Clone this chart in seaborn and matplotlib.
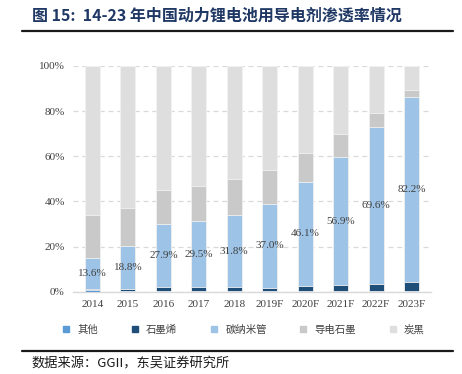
import numpy as np
import pandas as pd
import matplotlib
matplotlib.use('Agg')
import matplotlib.pyplot as plt
from matplotlib.lines import Line2D
import seaborn as sns

sns.set_style('white')
plt.rcParams['font.family'] = ['Noto Sans CJK SC', 'DejaVu Sans']

years = ['2014', '2015', '2016', '2017', '2018', '2019F', '2020F', '2021F', '2022F', '2023F']
other = [0.8, 0.4, 0.3, 0.3, 0.3, 0.3, 0.3, 0.3, 0.3, 0.3]
graphene = [0.4, 1.0, 1.7, 1.6, 1.7, 1.5, 2.3, 2.5, 3.1, 3.8]
cnt = [13.6, 18.8, 27.9, 29.5, 31.8, 37.0, 46.1, 56.9, 69.6, 82.2]
graphite = [19.2, 17.0, 15.1, 15.6, 16.2, 15.0, 12.8, 10.3, 6.2, 2.9]
series_names = ['其他', '石墨烯', '碳纳米管', '导电石墨', '炭黑']
colors = ['#5B9BD5', '#1F4E79', '#9DC3E6', '#C9C9C9', '#DEDEDE']

df = pd.DataFrame({'year': years, 'other': other, 'graphene': graphene,
                   'cnt': cnt, 'graphite': graphite})
df['carbon'] = 100 - df[['other', 'graphene', 'cnt', 'graphite']].sum(axis=1)
layers = ['other', 'graphene', 'cnt', 'graphite', 'carbon']
cum = df[layers].cumsum(axis=1) / 100

fig = plt.figure(figsize=(4.62, 3.74), dpi=100)
ax = fig.add_axes([0.158, 0.22, 0.775, 0.604])

# draw cumulative totals from top layer down so the stack shows
for name, col in reversed(list(zip(layers, colors))):
    sns.barplot(x=df['year'], y=cum[name], color=col, width=0.42,
                edgecolor='#F2F2F2', linewidth=0.6, saturation=1, ax=ax, zorder=3)

# CNT labels at middle of the CNT segment
base = cum['graphene']
for i, v in enumerate(cnt):
    ax.text(i, base[i] + v / 200, f'{v:.1f}%', ha='center', va='center',
            fontsize=8, color='#404040', family='Liberation Serif', zorder=5)

ax.set_ylim(0, 1)
ax.set_xlim(-0.55, 9.55)
ax.set_yticks(np.arange(0, 1.01, 0.2))
ax.set_yticklabels([f'{int(t * 100)}%' for t in np.arange(0, 1.01, 0.2)])
ax.yaxis.grid(True, linestyle=(0, (4, 3)), color='#D9D9D9', linewidth=0.9, zorder=0)
ax.set_axisbelow(True)
for s in ['left', 'right', 'top']:
    ax.spines[s].set_visible(False)
ax.spines['bottom'].set_color('#D9D9D9')
ax.spines['bottom'].set_linewidth(1)
ax.set_xlabel('')
ax.set_ylabel('')
ax.tick_params(axis='both', length=0, labelsize=8, colors='#404040', pad=6)
for lab in ax.get_xticklabels() + ax.get_yticklabels():
    lab.set_family('Liberation Serif')

handles = [Line2D([], [], marker='s', linestyle='', markersize=4.5,
                  markerfacecolor=c, markeredgecolor=c) for c in colors]
fig.legend(handles, series_names, loc='center', bbox_to_anchor=(0.52, 0.118),
           ncol=5, frameon=False, fontsize=7.5, handletextpad=0.1,
           columnspacing=2.5, labelcolor='#404040')

fig.text(0.069, 0.958, '图 15:  14-23 年中国动力锂电池用导电剂渗透率情况',
         fontsize=11.5, fontweight='bold', color='#1F3864', va='center')
fig.add_artist(Line2D([0.048, 0.98], [0.917, 0.917], color='#1A1A1A', linewidth=1.6))
fig.add_artist(Line2D([0.048, 0.98], [0.0615, 0.0615], color='#1A1A1A', linewidth=1.6))
fig.text(0.069, 0.045, '数据来源：GGII，东吴证券研究所', fontsize=9.5,
         color='#1A1A1A', va='top')

fig.savefig('out.png', dpi=100)
